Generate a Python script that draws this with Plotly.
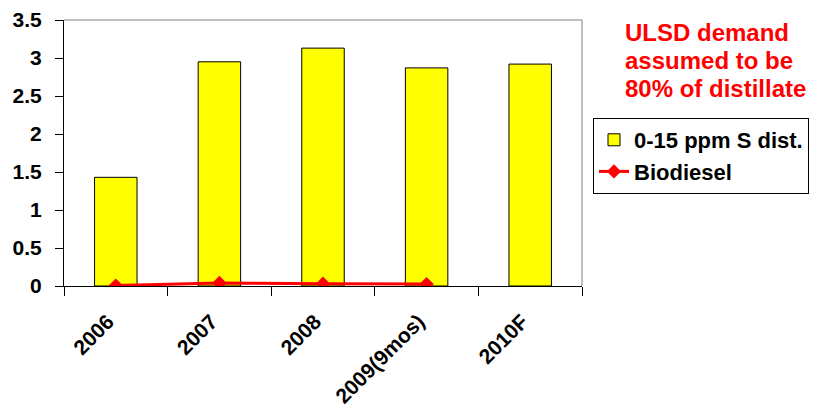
import plotly.graph_objects as go

years = ["2006", "2007", "2008", "2009(9mos)", "2010F"]
ulsd = [1.43, 2.95, 3.13, 2.87, 2.92]
bio_years = ["2006", "2007", "2008", "2009(9mos)"]
biodiesel = [0.005, 0.04, 0.03, 0.025]
y_ticks = [0, 0.5, 1, 1.5, 2, 2.5, 3, 3.5]
note_lines = ["ULSD demand", "assumed to be", "80% of distillate"]

FONT = "Arial, 'Liberation Sans', sans-serif"

fig = go.Figure()
fig.add_trace(go.Bar(
    x=years, y=ulsd, name="<b>0-15 ppm S dist.</b>",
    marker=dict(color="#FFFF00", line=dict(color="#000000", width=1)),
    width=0.41,
))
fig.add_trace(go.Scatter(
    x=bio_years, y=biodiesel, name="<b>Biodiesel</b>", mode="lines+markers",
    line=dict(color="#FF0000", width=3),
    marker=dict(symbol="diamond", size=11, color="#FF0000"),
))

fig.update_layout(
    width=818, height=410,
    margin=dict(l=64, r=236, t=20, b=124, autoexpand=False),
    paper_bgcolor="white", plot_bgcolor="white",
    font=dict(family=FONT, color="black"),
    showlegend=True,
    legend=dict(
        xref="container", yref="container",
        x=593 / 818, y=1 - 118 / 410, xanchor="left", yanchor="top",
        bordercolor="black", borderwidth=1, bgcolor="white",
        font=dict(size=22, family=FONT, color="black"),
        tracegroupgap=0, itemwidth=30,
    ),
)

fig.update_xaxes(
    type="category", categoryorder="array", categoryarray=years,
    automargin=False,
    showline=True, linecolor="black", linewidth=1,
    ticks="outside", ticklen=9, tickcolor="black", tickson="boundaries",
    tickangle=-45, showgrid=False,
    ticklabelstandoff=14, ticklabelshift=-8,
    tickfont=dict(size=21, family=FONT, color="black", weight="bold"),
)
fig.update_yaxes(
    range=[0, 3.5], tickvals=y_ticks,
    ticktext=[f"{v:g}" for v in y_ticks],
    automargin=False,
    showline=True, linecolor="black", linewidth=1,
    ticks="outside", ticklen=8, tickcolor="black",
    showgrid=False, zeroline=False, ticklabelstandoff=9,
    tickfont=dict(size=21, family=FONT, color="black", weight="bold"),
)

# gray frame on the top and right of the plotting area
fig.add_shape(type="line", xref="paper", yref="paper", x0=0, x1=1, y0=1, y1=1,
              line=dict(color="#808080", width=1))
fig.add_shape(type="line", xref="paper", yref="paper", x0=1, x1=1, y0=0, y1=1,
              line=dict(color="#808080", width=1))

# red note, one annotation per line for tight line spacing
for i, line in enumerate(note_lines):
    fig.add_annotation(
        xref="paper", yref="paper", x=1.079, y=(286 - 32 - 28 * i) / 266,
        xanchor="left", yanchor="middle",
        text=f"<b>{line}</b>", showarrow=False, align="left",
        font=dict(size=24, family=FONT, color="#FF0000"),
    )

fig.write_html("out.html")
